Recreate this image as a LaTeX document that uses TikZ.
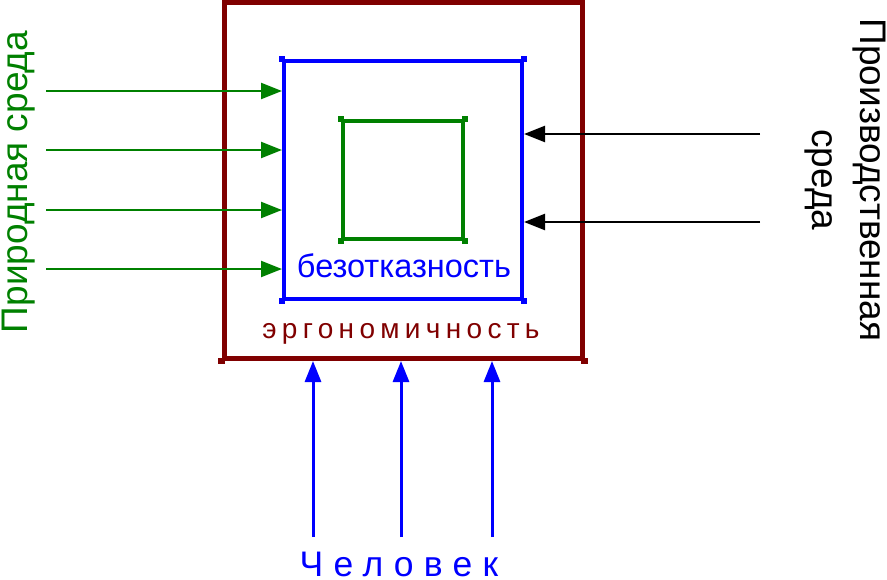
\documentclass[tikz,border=0pt]{standalone}
\usepackage{fontspec}
\setmainfont{Liberation Sans}
\newfontfamily\spacedfont[LetterSpace=19]{Liberation Sans}
\newfontfamily\widefont[LetterSpace=29]{Liberation Sans}
\usetikzlibrary{arrows.meta}
\definecolor{brownc}{RGB}{128,0,0}
\definecolor{bluec}{RGB}{0,0,255}
\definecolor{greenc}{RGB}{0,128,0}
\tikzset{
  boxstyle/.style={draw, inner sep=0pt, fill=none},
  cornermark/.style={fill, minimum size=6.5pt, inner sep=0pt},
  garrow/.style={draw=greenc, line width=2.4pt, -{Triangle[length=21pt,width=16pt]}},
  karrow/.style={draw=black, line width=2.4pt, -{Triangle[length=21pt,width=16pt]}},
  barrow/.style={draw=bluec, line width=3pt, -{Triangle[length=21pt,width=16pt]}},
}
\begin{document}
\begin{tikzpicture}[x=1pt,y=-1pt]
\useasboundingbox (0,0) rectangle (887,579);
% outer box
\node[boxstyle, draw=brownc, line width=5pt, minimum width=358pt, minimum height=356pt] (outer) at (403,180.5) {};
\foreach \c in {south west, south east}{\node[cornermark, fill=brownc] at (outer.\c) {};}
% blue box
\node[boxstyle, draw=bluec, line width=4pt, minimum width=238pt, minimum height=238pt] (blue) at (403,180) {};
\foreach \c in {north west, north east, south west, south east}{\node[cornermark, fill=bluec] at (blue.\c) {};}
% green box
\node[boxstyle, draw=greenc, line width=4pt, minimum width=120pt, minimum height=118pt] (green) at (403,180) {};
\foreach \c in {north west, north east, south west, south east}{\node[cornermark, fill=greenc] at (green.\c) {};}
% labels inside
\node[text=bluec, font=\fontsize{32.5}{36}\selectfont, inner sep=0pt, anchor=base] (bez) at (404,277) {безотказность};
\node[text=brownc, font=\fontsize{28}{30}\spacedfont, inner sep=0pt, anchor=base] (erg) at (401,338) {эргономичность};
% left label
\node[text=greenc, font=\fontsize{37}{40}\selectfont, rotate=90, inner sep=0pt] (nat) at (19,182) {Природная среда};
% right label
\node[text=black, font=\fontsize{37}{48}\selectfont, rotate=-90, align=center, inner sep=0pt] (prod) at (845,180) {Производственная\\среда};
% bottom label
\node[text=bluec, font=\fontsize{35.5}{38}\widefont, inner sep=0pt, anchor=base] (man) at (399,576) {Человек};
% green arrows
\foreach \y [count=\i] in {91,150,210,269}{
  \coordinate (g\i) at (46,\y);
  \draw[garrow] (g\i) -- (g\i -| blue.west);
}
% black arrows
\foreach \y [count=\i] in {134,222}{
  \coordinate (k\i) at (760,\y);
  \draw[karrow] (k\i) -- (k\i -| blue.east);
}
% blue arrows
\foreach \x [count=\i] in {313,401,492}{
  \coordinate (b\i) at (\x,537);
  \draw[barrow] (b\i) -- (b\i |- outer.south);
}
\end{tikzpicture}
\end{document}
